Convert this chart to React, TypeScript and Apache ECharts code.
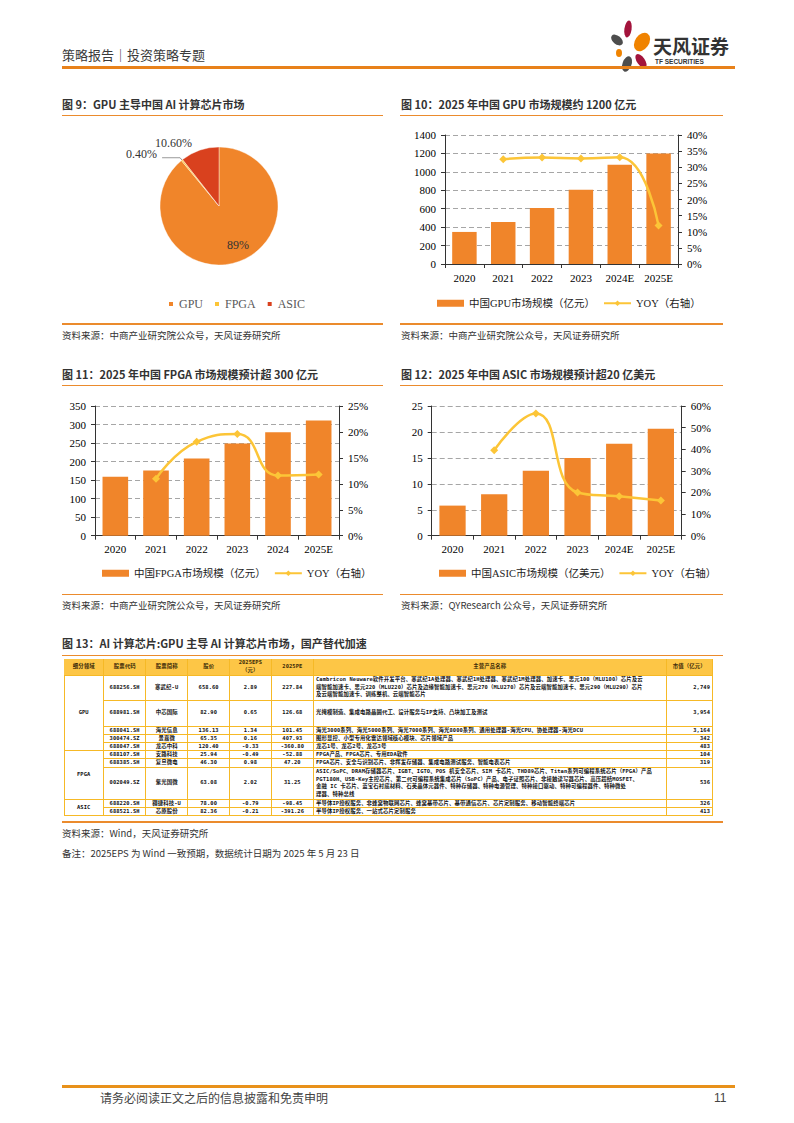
import React, { useEffect, useRef } from "react";
import * as echarts from "echarts";

// ---------------- data ----------------
const pieNames = ["GPU", "FPGA", "ASIC"];
const pieValues = [89, 0.4, 10.6];
const pieLabels = ["89%", "0.40%", "10.60%"];

const gpuYears = ["2020", "2021", "2022", "2023", "2024E", "2025E"];
const gpuMarket = [348, 457, 608, 805, 1076, 1200];
const gpuYoy = [null, 32.5, 33.0, 32.7, 33.1, 11.9];

const fpgaYears = ["2020", "2021", "2022", "2023", "2024", "2025E"];
const fpgaMarket = [159, 176, 208, 249, 279, 311];
const fpgaYoy = [null, 11.0, 18.1, 19.6, 11.6, 11.8];

const asicYears = ["2020", "2021", "2022", "2023", "2024E", "2025E"];
const asicMarket = [5.8, 8.0, 12.5, 15.0, 17.7, 20.6];
const asicYoy = [null, 39.5, 56.5, 20.0, 18.2, 16.3];

const tableHeader = ["细分领域", "股票代码", "股票简称", "股价", "2025EPS\n（元）", "2025PE", "主营产品名称", "市值（亿元）"];
const segNames = ["GPU", "FPGA", "ASIC"];
const segRowCounts = [5, 3, 2];
const codes = ["688256.SH", "688981.SH", "688041.SH", "300474.SZ", "688047.SH", "688107.SH", "688385.SH", "002049.SZ", "688220.SH", "688521.SH"];
const names = ["寒武纪-U", "中芯国际", "海光信息", "景嘉微", "龙芯中科", "安路科技", "复旦微电", "紫光国微", "翱捷科技-U", "芯原股份"];
const prices = ["658.60", "82.90", "136.13", "65.35", "120.40", "25.94", "46.30", "63.08", "78.00", "82.36"];
const eps = ["2.89", "0.65", "1.34", "0.16", "-0.33", "-0.49", "0.98", "2.02", "-0.79", "-0.21"];
const pe = ["227.84", "126.68", "101.45", "407.93", "-360.80", "-52.88", "47.20", "31.25", "-98.45", "-391.26"];
const caps = ["2,749", "3,954", "3,164", "342", "483", "104", "319", "536", "326", "413"];
const products = [
  "Cambricon Neuware软件开发平台、寒武纪1A处理器、寒武纪1H处理器、寒武纪1M处理器、加速卡、思元100（MLU100）芯片及云\n端智能加速卡、思元220（MLU220）芯片及边缘智能加速卡、思元270（MLU270）芯片及云端智能加速卡、思元290（MLU290）芯片\n及云端智能加速卡、训练整机、云端智能芯片",
  "光掩模制造、集成电路晶圆代工、设计服务与IP支持、凸块加工及测试",
  "海光3000系列、海光5000系列、海光7000系列、海光8000系列、通用处理器-海光CPU、协处理器-海光DCU",
  "图形显控、小型专用化雷达领域核心模块、芯片领域产品",
  "龙芯1号、龙芯2号、龙芯3号",
  "FPGA产品、FPGA芯片、专用EDA软件",
  "FPGA芯片、安全与识别芯片、非挥发存储器、集成电路测试服务、智能电表芯片",
  "ASIC/SoPC、DRAM存储器芯片、IGBT、IGTO、POS 机安全芯片、SIM 卡芯片、THD89芯片、Titan系列可编程系统芯片（FPGA）产品\nPGT180H、USB-Key主控芯片、第二代可编程系统集成芯片（SoPC）产品、电子证照芯片、非接触读写器芯片、高压超结MOSFET、\n金融 IC 卡芯片、蓝宝石衬底材料、石英晶体元器件、特种存储器、特种电源管理、特种接口驱动、特种可编程器件、特种微处\n理器、特种总线",
  "半导体IP授权服务、非蜂窝物联网芯片、蜂窝基带芯片、基带通信芯片、芯片定制服务、移动智能终端芯片",
  "半导体IP授权服务、一站式芯片定制服务",
];

// ---------------- styles ----------------
const ORANGE = "#F0852A";
const YELLOW = "#FCC537";
const RED = "#D9411E";
const LINE_OR = "#EB8B2D";
const GOLD = "#F6B926";
const SERIF = "'Liberation Serif', 'Times New Roman', 'Noto Sans CJK SC', serif";
const CJK = "'Noto Sans CJK SC', 'Liberation Sans', sans-serif";

function EChart(props: { left: number; top: number; width: number; height: number; option: any }) {
  const ref = useRef<HTMLDivElement>(null);
  useEffect(() => {
    const chart = echarts.init(ref.current as HTMLDivElement, null, { renderer: "svg" });
    chart.setOption(props.option);
    return () => chart.dispose();
  }, []);
  return (
    <div
      ref={ref}
      style={{ position: "absolute", left: props.left, top: props.top, width: props.width, height: props.height }}
    />
  );
}

function barLineOption(cfg: {
  years: string[];
  market: number[];
  yoy: (number | null)[];
  barName: string;
  leftMax: number;
  leftStep: number;
  rightMax: number;
  rightStep: number;
  grid: any;
  legendLeft: number;
}) {
  const axisColor = "#333";
  const labelStyle = { fontFamily: SERIF, fontSize: 11, color: "#000" };
  return {
    animation: false,
    grid: cfg.grid,
    legend: {
      left: cfg.legendLeft,
      top: 175,
      itemWidth: 27,
      itemHeight: 7,
      itemGap: 8,
      textStyle: { fontFamily: SERIF, fontSize: 10.5, color: "#222" },
      data: [{ name: cfg.barName, icon: "rect" }, { name: "YOY（右轴）" }],
    },
    xAxis: {
      type: "category",
      data: cfg.years,
      axisLine: { show: true, lineStyle: { color: axisColor, width: 1 } },
      axisTick: { show: true, length: 4, lineStyle: { color: axisColor } },
      axisLabel: { ...labelStyle, margin: 8 },
    },
    yAxis: [
      {
        type: "value",
        min: 0,
        max: cfg.leftMax,
        interval: cfg.leftStep,
        axisLine: { show: true, lineStyle: { color: axisColor, width: 1 } },
        axisTick: { show: true, length: 4, lineStyle: { color: axisColor } },
        splitLine: { show: true, lineStyle: { color: "#A6A6A6", type: [5, 3], width: 1 } },
        axisLabel: { ...labelStyle, margin: 9, formatter: (v: number) => String(v) },
      },
      {
        type: "value",
        position: "right",
        min: 0,
        max: cfg.rightMax,
        interval: cfg.rightStep,
        axisLine: { show: true, lineStyle: { color: axisColor, width: 1 } },
        axisTick: { show: true, length: 4, lineStyle: { color: axisColor } },
        splitLine: { show: false },
        axisLabel: { ...labelStyle, margin: 9, formatter: (v: number) => `${v}%` },
      },
    ],
    series: [
      {
        type: "bar",
        name: cfg.barName,
        data: cfg.market,
        barWidth: "63%",
        itemStyle: { color: ORANGE },
        yAxisIndex: 0,
      },
      {
        type: "line",
        name: "YOY（右轴）",
        data: cfg.yoy,
        yAxisIndex: 1,
        smooth: true,
        symbol: "diamond",
        symbolSize: 8,
        lineStyle: { color: YELLOW, width: 2.5 },
        itemStyle: { color: YELLOW },
      },
    ],
  };
}

const pieOption = {
  animation: false,
  legend: {
    left: 100,
    top: 175,
    itemWidth: 6,
    itemHeight: 6,
    itemGap: 10,
    icon: "rect",
    textStyle: { fontFamily: SERIF, fontSize: 12, color: "#595959" },
    data: pieNames,
  },
  series: [
    {
      type: "pie",
      center: [157, 88],
      radius: 59,
      startAngle: 90,
      clockwise: true,
      avoidLabelOverlap: false,
      itemStyle: { borderColor: "#fff", borderWidth: 0.4 },
      label: {
        show: true,
        position: "outside",
        fontFamily: SERIF,
        fontSize: 12,
        color: "#333",
        formatter: (p: any) => pieLabels[p.dataIndex],
      },
      labelLine: { show: true, length: 3, length2: 18, lineStyle: { color: "#999", width: 1 } },
      labelLayout: (p: any) => (p.dataIndex === 0 ? { dx: 8, dy: 8 } : p.dataIndex === 1 ? { dy: -4 } : {}),
      data: [
        { name: pieNames[0], value: pieValues[0], itemStyle: { color: ORANGE }, label: { position: "inside" } },
        { name: pieNames[1], value: pieValues[1], itemStyle: { color: YELLOW } },
        {
          name: pieNames[2],
          value: pieValues[2],
          itemStyle: { color: RED },
          labelLine: { show: false, length: 8, length2: 0 },
        },
      ],
    },
  ],
};

function Txt(props: { x: number; y: number; size: number; bold?: boolean; color?: string; font?: string; children: any }) {
  return (
    <div
      style={{
        position: "absolute",
        left: props.x,
        top: props.y - props.size * 0.7,
        fontSize: props.size,
        lineHeight: `${props.size * 1.4}px`,
        fontWeight: props.bold ? 700 : 400,
        color: props.color || "#333",
        fontFamily: props.font || CJK,
        whiteSpace: "nowrap",
      }}
    >
      {props.children}
    </div>
  );
}

function HLine(props: { x: number; y: number; w: number; h?: number; color?: string }) {
  return (
    <div
      style={{
        position: "absolute",
        left: props.x,
        top: props.y,
        width: props.w,
        height: props.h || 1.5,
        background: props.color || LINE_OR,
      }}
    />
  );
}

function Table() {
  const colX = [64, 104.3, 146, 188.3, 230, 271.7, 314, 666.7, 713];
  const rowH = [16.4, 25, 26, 8.3, 8, 8, 8.3, 8.3, 32.3, 8, 8];
  const top0 = 659.3;
  const rowY: number[] = [top0];
  for (let i = 0; i < rowH.length; i++) rowY.push(rowY[i] + rowH[i]);
  const cells: any[] = [];
  const base: any = {
    position: "absolute",
    boxSizing: "border-box",
    borderRight: `1px solid ${GOLD}`,
    borderBottom: `1px solid ${GOLD}`,
    display: "flex",
    alignItems: "center",
    overflow: "hidden",
    whiteSpace: "pre",
    lineHeight: "7.6px",
    fontSize: 5.4,
    letterSpacing: 0.1,
    color: "#111",
    fontWeight: 600,
    fontFamily: "'DejaVu Sans Mono', 'Noto Sans CJK SC', monospace",
  };
  const add = (key: string, c: number, r0: number, r1: number, text: string, align: string, extra?: any) => {
    cells.push(
      <div
        key={key}
        style={{
          ...base,
          left: colX[c],
          top: rowY[r0],
          width: colX[c + 1] - colX[c],
          height: rowY[r1] - rowY[r0],
          justifyContent: align === "left" ? "flex-start" : align === "right" ? "flex-end" : "center",
          textAlign: align as any,
          padding: "0 2px",
          ...(extra || {}),
        }}
      >
        {text}
      </div>
    );
  };
  tableHeader.forEach((h, c) => add("h" + c, c, 0, 1, h, "center", { background: "#FDC646", color: "#3A2A08" }));
  let r = 1;
  segNames.forEach((s, i) => {
    add("s" + i, 0, r, r + segRowCounts[i], s, "center");
    r += segRowCounts[i];
  });
  codes.forEach((code, i) => {
    const rr = i + 1;
    add("c" + i, 1, rr, rr + 1, code, "center");
    add("n" + i, 2, rr, rr + 1, names[i], "center");
    add("p" + i, 3, rr, rr + 1, prices[i], "center");
    add("e" + i, 4, rr, rr + 1, eps[i], "center");
    add("pe" + i, 5, rr, rr + 1, pe[i], "center");
    add("pr" + i, 6, rr, rr + 1, products[i], "left", { padding: "0 1px 0 2px" });
    add("m" + i, 7, rr, rr + 1, caps[i], "right");
  });
  return (
    <>
      <div
        style={{
          position: "absolute",
          left: colX[0],
          top: top0,
          width: colX[8] - colX[0],
          height: rowY[rowY.length - 1] - top0,
          boxSizing: "border-box",
          borderLeft: `1px solid ${GOLD}`,
          borderTop: `1px solid ${GOLD}`,
        }}
      />
      {cells}
    </>
  );
}

export default function App() {
  return (
    <div
      style={{
        position: "absolute",
        left: 0,
        top: 0,
        width: 794,
        height: 1123,
        background: "#fff",
        overflow: "hidden",
        fontFamily: CJK,
      }}
    >
      {/* header */}
      <Txt x={62} y={55} size={13} color="#3a3a3a">策略报告｜投资策略专题</Txt>
      <svg style={{ position: "absolute", left: 604, top: 16 }} width={54} height={60} viewBox="604 16 54 60">
        <ellipse cx={628} cy={29} rx={3.6} ry={8.5} fill="#A3143C" transform="rotate(8 628 29)" />
        <ellipse cx={617} cy={40} rx={4.2} ry={6.8} fill="#4D4D4D" transform="rotate(-50 617 40)" />
        <ellipse cx={642} cy={42} rx={7} ry={10} fill="#F08300" transform="rotate(35 642 42)" />
        <ellipse cx={619} cy={53} rx={3} ry={4} fill="#F08300" />
        <ellipse cx={641} cy={61} rx={4} ry={8} fill="#A3143C" transform="rotate(-35 641 61)" />
        <ellipse cx={627} cy={64} rx={4.5} ry={8} fill="#4D4D4D" transform="rotate(20 627 64)" />
      </svg>
      <Txt x={653} y={46} size={19} bold color="#333">天风证券</Txt>
      <Txt x={655} y={62} size={6.5} bold color="#333" font="'Liberation Sans', sans-serif">TF SECURITIES</Txt>
      <HLine x={62} y={66} w={673} h={2.5} color="#E8811A" />

      {/* row 1 titles */}
      <Txt x={62} y={104.5} size={11} bold>图 9：GPU 主导中国 AI 计算芯片市场</Txt>
      <HLine x={62} y={114.5} w={321} />
      <Txt x={401} y={104.5} size={11} bold>图 10：2025 年中国 GPU 市场规模约 1200 亿元</Txt>
      <HLine x={400} y={114.5} w={323} />

      <EChart left={62} top={118} width={321} height={200} option={pieOption} />
      <EChart
        left={400}
        top={118}
        width={335}
        height={200}
        option={barLineOption({
          years: gpuYears,
          market: gpuMarket,
          yoy: gpuYoy,
          barName: "中国GPU市场规模（亿元）",
          leftMax: 1400,
          leftStep: 200,
          rightMax: 40,
          rightStep: 5,
          grid: { left: 45, right: 57, top: 17, bottom: 54 },
          legendLeft: 32,
        })}
      />

      <HLine x={62} y={323} w={321} />
      <Txt x={62} y={336} size={9.5}>资料来源：中商产业研究院公众号，天风证券研究所</Txt>
      <HLine x={400} y={323} w={323} />
      <Txt x={401} y={336} size={9.5}>资料来源：中商产业研究院公众号，天风证券研究所</Txt>

      {/* row 2 titles */}
      <Txt x={62} y={374.5} size={11} bold>图 11：2025 年中国 FPGA 市场规模预计超 300 亿元</Txt>
      <HLine x={62} y={384.5} w={321} />
      <Txt x={401} y={374.5} size={11} bold>图 12：2025 年中国 ASIC 市场规模预计超20 亿美元</Txt>
      <HLine x={400} y={384.5} w={323} />

      <EChart
        left={62}
        top={388}
        width={321}
        height={200}
        option={barLineOption({
          years: fpgaYears,
          market: fpgaMarket,
          yoy: fpgaYoy,
          barName: "中国FPGA市场规模（亿元）",
          leftMax: 350,
          leftStep: 50,
          rightMax: 25,
          rightStep: 5,
          grid: { left: 33, right: 44, top: 18, bottom: 52.3 },
          legendLeft: 35,
        })}
      />
      <EChart
        left={400}
        top={388}
        width={335}
        height={200}
        option={barLineOption({
          years: asicYears,
          market: asicMarket,
          yoy: asicYoy,
          barName: "中国ASIC市场规模（亿美元）",
          leftMax: 25,
          leftStep: 5,
          rightMax: 60,
          rightStep: 10,
          grid: { left: 31.7, right: 53.3, top: 18, bottom: 52.3 },
          legendLeft: 34,
        })}
      />

      <HLine x={62} y={593.5} w={321} />
      <Txt x={62} y={606} size={9.5}>资料来源：中商产业研究院公众号，天风证券研究所</Txt>
      <HLine x={400} y={593.5} w={323} />
      <Txt x={401} y={606} size={9.5}>资料来源：QYResearch 公众号，天风证券研究所</Txt>

      {/* table */}
      <Txt x={62} y={644} size={11} bold>图 13：AI 计算芯片:GPU 主导 AI 计算芯片市场，国产替代加速</Txt>
      <HLine x={62} y={654.5} w={661} />
      <Table />
      <HLine x={62} y={821} w={661} />
      <Txt x={62} y={834} size={9.5}>资料来源：Wind，天风证券研究所</Txt>
      <Txt x={62} y={854} size={9.5}>备注：2025EPS 为 Wind 一致预期，数据统计日期为 2025 年 5 月 23 日</Txt>

      {/* footer */}
      <HLine x={62} y={1085} w={673} h={2.5} color="#E8911A" />
      <Txt x={100} y={1098} size={12} color="#444">请务必阅读正文之后的信息披露和免责申明</Txt>
      <Txt x={714} y={1098} size={12} color="#444" font="'Liberation Sans', sans-serif">11</Txt>
    </div>
  );
}
